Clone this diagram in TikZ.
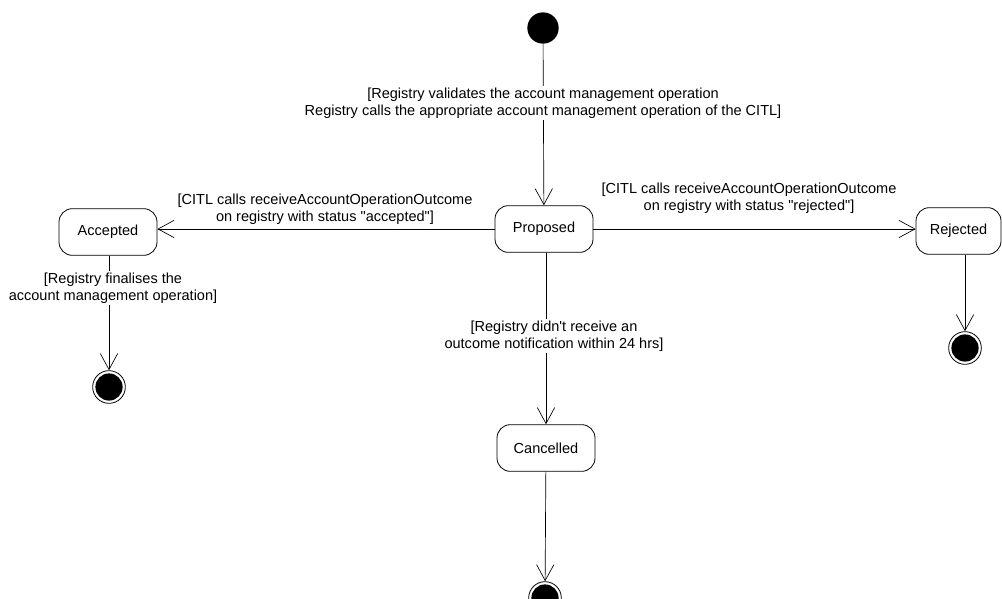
\documentclass[tikz,border=0pt]{standalone}
\usepackage{fontspec}
\setmainfont{Liberation Sans}[Ligatures=TeXOff]
\usetikzlibrary{arrows.meta}
\begin{document}
\begin{tikzpicture}[x=0.75pt,y=-0.75pt,
  state/.style={draw,line width=0.6pt,rounded corners=10pt,minimum width=73.5pt,minimum height=35pt,inner sep=0pt,font=\fontsize{10.9}{13}\selectfont},
  initial/.style={circle,fill=black,minimum size=23.5pt,inner sep=0pt},
  final/.style={circle,draw,line width=0.6pt,minimum size=24.5pt,inner sep=0pt,path picture={\fill (path picture bounding box.center) circle (10.2pt);}},
  guard/.style={align=center,inner sep=1pt,fill=white,font=\fontsize{10.9}{13}\selectfont},
  trans/.style={-{Straight Barb[length=12pt,width=13pt]},line width=0.5pt}]
\useasboundingbox (0,0) rectangle (1002,599);
\node[initial] (start) at (543,28) {};
\node[state] (prop) at (544,229) {Proposed};
\node[state] (acc) at (108,232) {Accepted};
\node[state,minimum width=63.75pt] (rej) at (958.5,231) {Rejected};
\node[state] (canc) at (546,448) {Cancelled};
\node[final] (accend) at (109,387) {};
\node[final] (rejend) at (965,348) {};
\node[final] (canend) at (545,598) {};
\draw[trans] (start) -- (prop);
\draw[trans] (prop.west) -- (prop.west -| acc.east);
\draw[trans] (prop.east) -- (prop.east -| rej.west);
\draw[trans] (prop.south -| canc) -- (canc);
\draw[trans] (acc.south -| accend) -- (accend);
\draw[trans] (rej.south -| rejend) -- (rejend);
\draw[trans] (canc) -- (canend);
\node[guard] (gtop) at (543,103) {[Registry validates the account management operation\\Registry calls the appropriate account management operation of the CITL]};
\node[guard] (gacc) at (325,209) {[CITL calls receiveAccountOperationOutcome\\on registry with status "accepted"]};
\node[guard] (grej) at (749,198) {[CITL calls receiveAccountOperationOutcome\\on registry with status "rejected"]};
\node[guard] (gfin) at (113,288) {[Registry finalises the\\account management operation]};
\node[guard] (gcan) at (554,336) {[Registry didn't receive an\\outcome notification within 24 hrs]};
\end{tikzpicture}
\end{document}
